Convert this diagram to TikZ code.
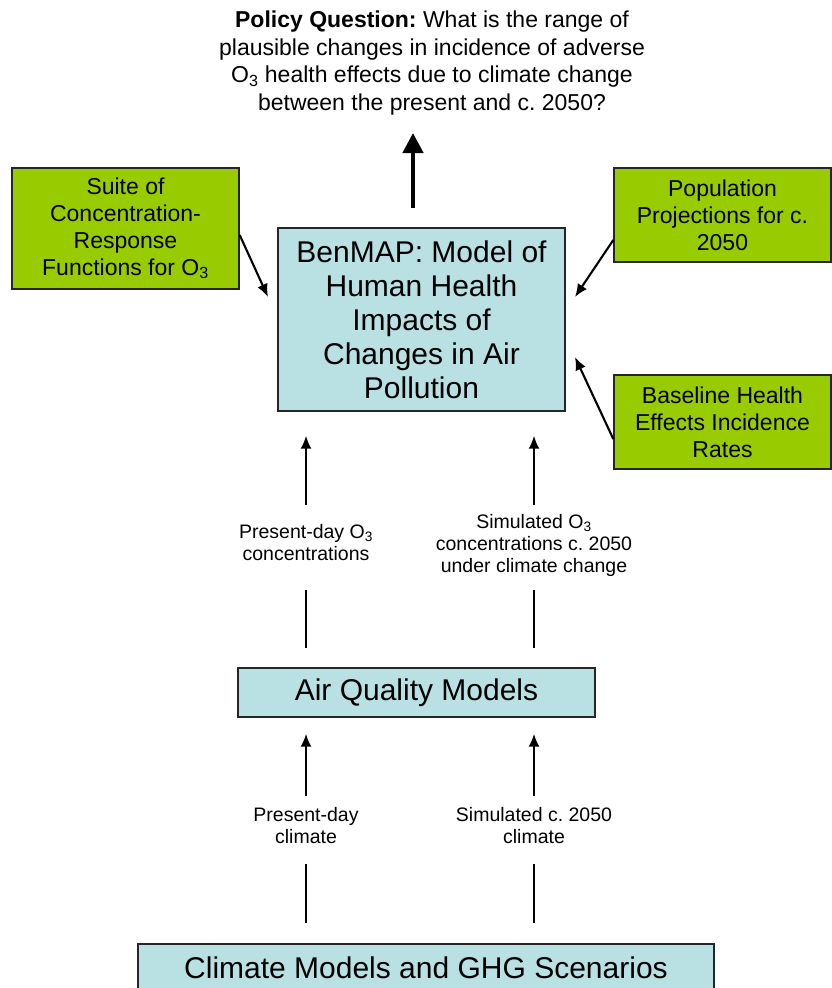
\documentclass[tikz,border=0pt]{standalone}
\usepackage{fontspec}
\setmainfont{Liberation Sans}
\frenchspacing
\usetikzlibrary{arrows.meta}
\definecolor{boxblue}{RGB}{185,225,228}
\definecolor{boxgreen}{RGB}{153,204,0}
\tikzset{
  bluebox/.style={draw=black!85, line width=1.4pt, fill=boxblue, inner sep=0pt, align=center},
  greenbox/.style={draw=black!85, line width=1.4pt, fill=boxgreen, inner sep=0pt, align=center,
     font=\fontsize{23}{26.8}\selectfont},
  lab/.style={inner sep=0pt, align=center, font=\fontsize{19.5}{22}\selectfont},
  arr/.style={line width=2.1pt, -{Latex[length=13pt,width=11pt]}},
  bigarr/.style={line width=4.5pt, -{Triangle[length=20pt,width=20pt]}},
  plain/.style={line width=1.6pt}
}
\begin{document}
\begin{tikzpicture}[x=1pt,y=-1pt]
\useasboundingbox[fill=white] (0,0) rectangle (832,988);

% policy question
\node[inner sep=0pt, align=center, font=\fontsize{23}{27.5}\selectfont] (policy) at (432,63)
 {\textbf{Policy Question:} What is the range of\\
  plausible changes in incidence of adverse\\
  O\textsubscript{3} health effects due to climate change\\
  between the present and c. 2050?};

% boxes
\node[bluebox, minimum width=287pt, minimum height=183pt, font=\fontsize{30}{34}\selectfont] (benmap) at (421.5,319.5)
 {BenMAP: Model of\\Human Health\\Impacts of\\Changes in Air\\Pollution};
\node[greenbox, minimum width=227pt, minimum height=121pt] (suite) at (125.5,228.5)
 {Suite of\\Concentration-\\Response\\Functions for O\textsubscript{3}};
\node[greenbox, minimum width=217pt, minimum height=94pt] (pop) at (722.5,215)
 {Population\\Projections for c.\\2050};
\node[greenbox, minimum width=217pt, minimum height=94pt] (base) at (722.5,422)
 {Baseline Health\\Effects Incidence\\Rates};
\node[bluebox, minimum width=357pt, minimum height=49pt, font=\fontsize{30}{32}\selectfont] (aq) at (416.5,692.5)
 {Air Quality Models};
\node[bluebox, minimum width=576pt, minimum height=48pt, font=\fontsize{30}{32}\selectfont] (clim) at (426,968)
 {Climate Models and GHG Scenarios};

% labels
\node[lab] (l1) at (306,542.5) {Present-day O\textsubscript{3}\\concentrations};
\node[lab] (l2) at (534,545.5) {Simulated O\textsubscript{3}\\concentrations c. 2050\\under climate change};
\node[lab] (l3) at (306,826) {Present-day\\climate};
\node[lab] (l4) at (534,826) {Simulated c. 2050\\climate};

% policy arrow
\coordinate (ptail) at (413,208);
\coordinate (phead) at (413,133);
\draw[bigarr] (ptail) -- (phead);

% side arrows
\coordinate (sA) at (268,297);
\coordinate (sB) at (575,297);
\coordinate (sC) at (575,357);
\draw[arr] ([yshift=-6.5pt]suite.east) -- (sA);
\draw[arr] ([yshift=-25pt]pop.west) -- (sB);
\draw[arr] ([yshift=-17pt]base.west) -- (sC);

% upper column connectors
\draw[arr, shorten <=37.5pt, shorten >=24pt] (l1.center) -- (l1.center |- benmap.south);
\draw[arr, shorten <=40.5pt, shorten >=24pt] (l2.center) -- (l2.center |- benmap.south);
\draw[plain, shorten <=19pt, shorten >=47.5pt] (aq.north -| l1.center) -- (l1.center);
\draw[plain, shorten <=19pt, shorten >=44.5pt] (aq.north -| l2.center) -- (l2.center);

% lower column connectors
\draw[arr, shorten <=30pt, shorten >=16pt] (l3.center) -- (l3.center |- aq.south);
\draw[arr, shorten <=30pt, shorten >=16pt] (l4.center) -- (l4.center |- aq.south);
\draw[plain, shorten <=20pt, shorten >=38pt] (clim.north -| l3.center) -- (l3.center);
\draw[plain, shorten <=20pt, shorten >=38pt] (clim.north -| l4.center) -- (l4.center);
\end{tikzpicture}
\end{document}
